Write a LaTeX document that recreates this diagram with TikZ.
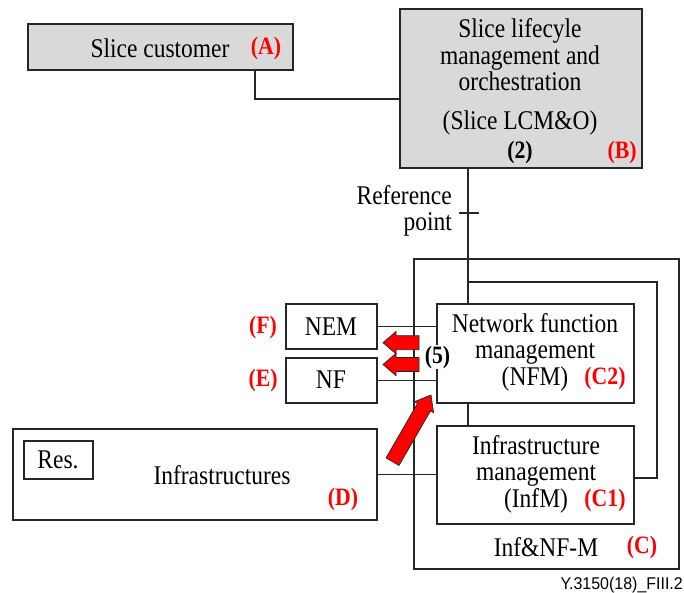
\documentclass[tikz,border=0pt]{standalone}
\usepackage{fontspec}
\setmainfont[FakeStretch=0.87]{Liberation Serif}
\newfontfamily\figsans[FakeStretch=0.94]{Liberation Sans}
\usetikzlibrary{fit}
\begin{document}
\begin{tikzpicture}[x=1pt,y=-1pt,
  wire/.style={line width=1.6pt, draw=black!85},
  frame/.style={wire, inner sep=0pt, fit={#1}},
  shaded/.style={fill=black!15},
  lbl/.style={font=\fontsize{27}{26.5}\selectfont, inner sep=0pt, align=center},
  tag/.style={text=red, font=\bfseries\fontsize{25}{25}\selectfont, inner sep=0pt},
  idx/.style={font=\bfseries\fontsize{25}{25}\selectfont, inner sep=0pt},
  pics/fatarrow/.style args={#1/#2/#3/#4}{code={
    \filldraw[fill=red, draw=black!85, line width=0.7pt, line join=miter]
      (0,-#3) -- ({#1-#2},-#3) -- ({#1-#2},-#4) -- (#1,0)
      -- ({#1-#2},#4) -- ({#1-#2},#3) -- (0,#3) -- cycle;}},
]
\useasboundingbox (0,0) rectangle (684,593);

% boxes
\node[frame={(28,24) (293,70)}, shaded] (sc) {};
\node[frame={(400,9) (642,168)}, shaded] (lcm) {};
\node[frame={(414,259) (679,569)}] (infnfm) {};
\node[frame={(437,304) (634,403)}] (nfm) {};
\node[frame={(437,426) (634,524)}] (infm) {};
\node[frame={(286,304) (377,349)}] (nem) {};
\node[frame={(286,358) (377,403)}] (nf) {};
\node[frame={(13,429) (377,520)}] (infra) {};
\node[frame={(24,441) (93,479)}] (res) {};

% texts
\node[lbl] (sctext) at (160,48) {Slice customer};
\node[tag] (tagA) at (266,48) {(A)};
\node[lbl] (lcmtext) at (520,55) {Slice lifecyle\\management and\\orchestration};
\node[lbl] (lcmabbr) at (520,123) {(Slice LCM\&O)};
\node[idx] (idx2) at (520,152) {(2)};
\node[tag] (tagB) at (622,152) {(B)};
\node[lbl, align=right, anchor=east] (reftext) at (452,211) {Reference\\point};
\node[lbl] (nfmtext) at (535,352) {Network function\\management\\(NFM)};
\node[tag] (tagC2) at (605,378) {(C2)};
\node[lbl] (infmtext) at (536,474) {Infrastructure\\management\\(InfM)};
\node[tag] (tagC1) at (605,500) {(C1)};
\node[lbl] (infnfmtext) at (546,547) {Inf\&NF-M};
\node[tag] (tagC) at (642,547) {(C)};
\node[lbl] (nemtext) at (331,327) {NEM};
\node[tag] (tagF) at (263,327) {(F)};
\node[lbl] (nftext) at (331,380) {NF};
\node[tag] (tagE) at (263,380) {(E)};
\node[lbl] (restext) at (58,460) {Res.};
\node[lbl] (infratext) at (222,475) {Infrastructures};
\node[tag] (tagD) at (343,499) {(D)};
\node[font=\figsans\fontsize{17}{17}\selectfont, anchor=east, inner sep=0pt] (figid) at (683,585) {Y.3150(18)\_FIII.2};

% connectors
\coordinate (cjoin) at (255,99);
\draw[wire] (sc.south -| cjoin) |- (lcm.west |- cjoin);
\coordinate (refx) at (468,0);
\draw[wire] (lcm.south -| refx) -- (nfm.north -| refx);
\coordinate (tickL) at (459,213);
\coordinate (tickR) at (479,213);
\draw[wire] (tickL) -- (tickR);
\coordinate (loopTop) at (657,282);
\coordinate (loopBot) at (657,478);
\draw[wire] (refx |- loopTop) -- (loopTop) -- (loopBot) -- (loopBot -| infm.east);
\draw[wire] (nfm.south -| refx) -- (infm.north -| refx);
\draw[wire] (nem.east) -- (nem.east -| nfm.west);
\draw[wire] (nf.east) -- (nf.east -| nfm.west);
\draw[wire] (infra.east) -- (infra.east -| infm.west);

% management flows
\pic[rotate=180] at (419,342.7) {fatarrow={36/13/7/11.2}};
\pic[rotate=180] at (419,364.5) {fatarrow={36/13/7/11.2}};
\pic[rotate=60] at (392.5,461.7) {fatarrow={77/14/7.5/11}};
\node[idx, fill=white, inner sep=1pt] (idx5) at (437.5,357) {(5)};
\end{tikzpicture}
\end{document}
